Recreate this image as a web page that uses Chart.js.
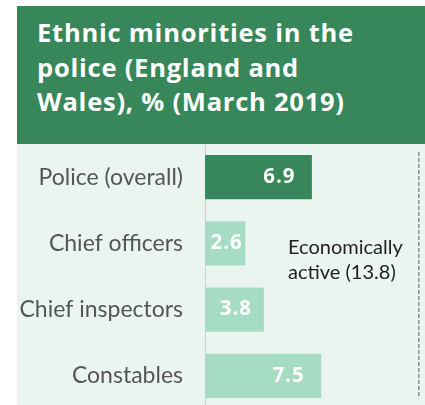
<!DOCTYPE html>
<html>
<head>
<meta charset="utf-8">
<script src="https://cdn.jsdelivr.net/npm/chart.js@4.4.1/dist/chart.umd.min.js"></script>
<style>
  html, body { margin: 0; padding: 0; width: 425px; height: 405px; overflow: hidden; background: #ffffff; }
  #header {
    position: absolute; left: 17px; top: 6px; width: 408px; height: 138px;
    background: #37875B; color: #ffffff;
    font-family: "Open Sans", Lato, sans-serif; font-weight: bold; font-size: 25.5px;
    line-height: 34.7px; box-sizing: border-box; padding: 9px 0 0 20px;
    white-space: nowrap;
  }
  #panel { position: absolute; left: 17px; top: 144px; width: 408px; height: 265px; background: #EBF5F0; }
  canvas { position: absolute; left: 0; top: 0; }
</style>
</head>
<body>
<div id="header">Ethnic minorities in the<br>police (England and<br>Wales), % (March 2019)</div>
<div id="panel"><canvas id="c" width="408" height="265"></canvas></div>
<script>
const categories = ["Police (overall)", "Chief officers", "Chief inspectors", "Constables"];
const shares = [6.9, 2.6, 3.8, 7.5];
const economicallyActive = 13.8;
const referenceLabel = ["Economically", "active (13.8)"];
const titleLines = ["Ethnic minorities in the", "police (England and", "Wales), % (March 2019)"];

const DARK = "#37875B", LIGHT = "#A5DCC3";

// header tracking fitted so the first line spans like the reference
(function () {
  const m = document.createElement("canvas").getContext("2d");
  m.font = "bold 25.5px 'Open Sans'";
  const w = m.measureText(titleLines[0]).width;
  const ls = Math.max(0, (316 - w) / (titleLines[0].length - 1));
  document.getElementById("header").style.letterSpacing = ls.toFixed(2) + "px";
})();

const valueLabels = {
  id: "valueLabels",
  afterDatasetsDraw(chart) {
    const ctx = chart.ctx;
    const meta = chart.getDatasetMeta(0);
    ctx.save();
    ctx.fillStyle = "#ffffff";
    ctx.font = "bold 20.5px 'Open Sans', sans-serif";
    ctx.letterSpacing = "1px";
    ctx.textAlign = "center";
    ctx.textBaseline = "middle";
    meta.data.forEach((bar, i) => {
      const cx = Math.max((bar.x + bar.base) / 2, bar.x - 34);
      ctx.fillText(shares[i].toFixed(1), cx + 1.5, bar.y);
    });
    const area = chart.chartArea;
    ctx.letterSpacing = "0px";
    ctx.fillStyle = "#222222";
    ctx.font = "20px Lato, sans-serif";
    ctx.textAlign = "left";
    ctx.fillText(referenceLabel[0], area.left + 83, 104);
    ctx.fillText(referenceLabel[1], area.left + 83, 129);
    ctx.restore();
  }
};

new Chart(document.getElementById("c"), {
  type: "bar",
  data: {
    labels: categories,
    datasets: [
      {
        type: "bar",
        indexAxis: "y",
        data: shares,
        backgroundColor: shares.map((v, i) => i === 0 ? DARK : LIGHT),
        borderWidth: 0,
        categoryPercentage: 1,
        barPercentage: 0.667,
        xAxisID: "x",
        yAxisID: "y"
      },
      {
        type: "line",
        data: [{ x: economicallyActive, y: 0.03 }, { x: economicallyActive, y: 0.96 }],
        borderColor: "#8a8a8a",
        borderWidth: 1.5,
        borderDash: [4, 2],
        pointRadius: 0,
        fill: false,
        xAxisID: "x",
        yAxisID: "y2"
      }
    ]
  },
  options: {
    responsive: false,
    animation: false,
    layout: { padding: 0 },
    plugins: { legend: { display: false }, tooltip: { enabled: false }, title: { display: false } },
    scales: {
      x: { type: "linear", min: 0, max: 14.2, offset: false, display: false },
      y: {
        type: "category",
        position: "left",
        offset: true,
        grid: { display: true, offset: true, color: "rgba(0,0,0,0)", drawTicks: true, tickLength: 22, tickColor: "rgba(0,0,0,0)" },
        border: { display: true, color: "#cfcfcf", width: 1 },
        ticks: { color: "#555555", font: { family: "Lato, sans-serif", size: 23 }, padding: 0 },
        afterFit(s) { s.width = 188; s.paddingTop = 0; s.paddingBottom = 0; }
      },
      y2: { type: "linear", min: 0, max: 1, reverse: true, offset: false, display: false }
    }
  },
  plugins: [valueLabels]
});
</script>
</body>
</html>
